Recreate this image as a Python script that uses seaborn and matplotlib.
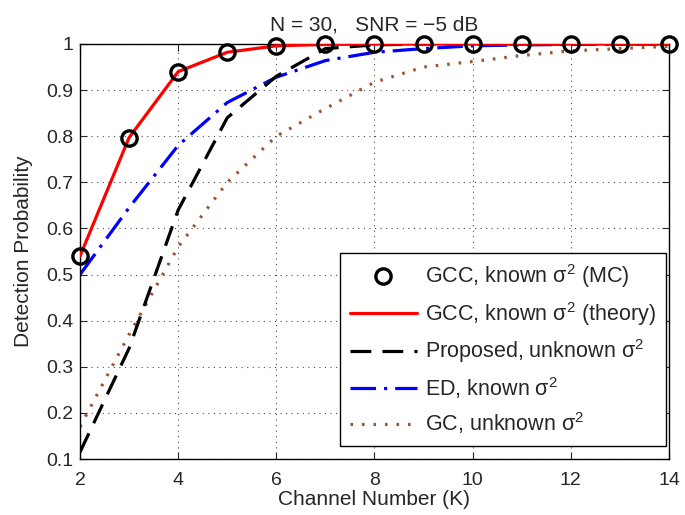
import matplotlib
matplotlib.use("Agg")
import matplotlib.pyplot as plt
import seaborn as sns
import pandas as pd

K = [2, 3, 4, 5, 6, 7, 8, 9, 10, 11, 12, 13, 14]
gcc_mc = [0.54, 0.797, 0.94, 0.982, 0.996, 0.999, 1.0, 1.0, 1.0, 1.0, 1.0, 1.0, 1.0]
gcc_theory = [0.54, 0.797, 0.94, 0.982, 0.996, 0.999, 1.0, 1.0, 1.0, 1.0, 1.0, 1.0, 1.0]
proposed = [0.115, 0.34, 0.64, 0.84, 0.93, 0.99, 0.998, 1.0, 1.0, 1.0, 1.0, 1.0, 1.0]
ed = [0.50, 0.645, 0.78, 0.873, 0.928, 0.964, 0.982, 0.99, 0.996, 0.998, 0.999, 1.0, 1.0]
gc = [0.17, 0.37, 0.56, 0.70, 0.80, 0.86, 0.917, 0.95, 0.962, 0.975, 0.985, 0.99, 0.995]

labels = [r"GCC, known $\sigma^2$ (MC)",
          r"GCC, known $\sigma^2$ (theory)",
          r"Proposed, unknown $\sigma^2$",
          r"ED, known $\sigma^2$",
          r"GC, unknown $\sigma^2$"]
xticks = [2, 4, 6, 8, 10, 12, 14]
yticks = [0.1, 0.2, 0.3, 0.4, 0.5, 0.6, 0.7, 0.8, 0.9, 1.0]
ytick_labels = ["0.1", "0.2", "0.3", "0.4", "0.5", "0.6", "0.7", "0.8", "0.9", "1"]

sns.set_style("ticks")
plt.rcParams["font.family"] = ["Liberation Sans", "DejaVu Sans"]
plt.rcParams["mathtext.default"] = "regular"
plt.rcParams["mathtext.fontset"] = "custom"
plt.rcParams["mathtext.rm"] = "Liberation Sans"

fig = plt.figure(figsize=(6.85, 5.15), dpi=100)
ax = fig.add_axes([0.1168, 0.1087, 0.8598, 0.8059])

df = pd.DataFrame({"K": K, "mc": gcc_mc, "th": gcc_theory, "pr": proposed, "ed": ed, "gc": gc})

sns.lineplot(data=df, x="K", y="mc", ax=ax, color="black", linestyle="none",
             marker="o", markersize=11, markerfacecolor="none", markeredgecolor="black",
             markeredgewidth=2.4, label=labels[0], zorder=5, clip_on=False)
sns.lineplot(data=df, x="K", y="th", ax=ax, color="#ff0000", linewidth=2.3, label=labels[1], zorder=4)
sns.lineplot(data=df, x="K", y="pr", ax=ax, color="black", linewidth=2.3,
             label=labels[2], zorder=3)
sns.lineplot(data=df, x="K", y="ed", ax=ax, color="#0000ff", linewidth=2.3, label=labels[3], zorder=2)
sns.lineplot(data=df, x="K", y="gc", ax=ax, color="#a0522d", linewidth=2.3, label=labels[4], zorder=1)

lines = ax.get_lines()
lines[2].set_linestyle((0, (6.5, 3.5)))
lines[3].set_linestyle((0, (8, 2.5, 1, 2.5)))
lines[4].set_linestyle((0, (0.8, 2.8)))

ax.set_xlim(2, 14)
ax.set_ylim(0.1, 1.0)
ax.set_xticks(xticks)
ax.set_yticks(yticks)
ax.set_yticklabels(ytick_labels)
ax.tick_params(direction="in", top=True, right=True, labelsize=14, length=5, width=0.8)
ax.tick_params(axis="x", pad=9)
ax.tick_params(axis="y", pad=5)
ax.grid(True, color="black", linestyle=(0, (1, 4)), linewidth=0.8, alpha=0.7)
for s in ax.spines.values():
    s.set_linewidth(1.0)
    s.set_color("black")

ax.set_xlabel("Channel Number (K)", fontsize=15, labelpad=1)
ax.set_ylabel("Detection Probability", fontsize=15, labelpad=9)
ax.set_title("N = 30,   SNR = \u22125 dB", fontsize=15, pad=10)

leg = ax.legend(loc="lower right", bbox_to_anchor=(0.995, 0.031), fontsize=15.5,
                handlelength=3.1, frameon=True,
                fancybox=False, edgecolor="black", framealpha=1, borderpad=0.45,
                labelspacing=0.45, handletextpad=0.4, borderaxespad=0.0)
leg.get_frame().set_linewidth(1.0)

fig.savefig("out.png", dpi=100)
